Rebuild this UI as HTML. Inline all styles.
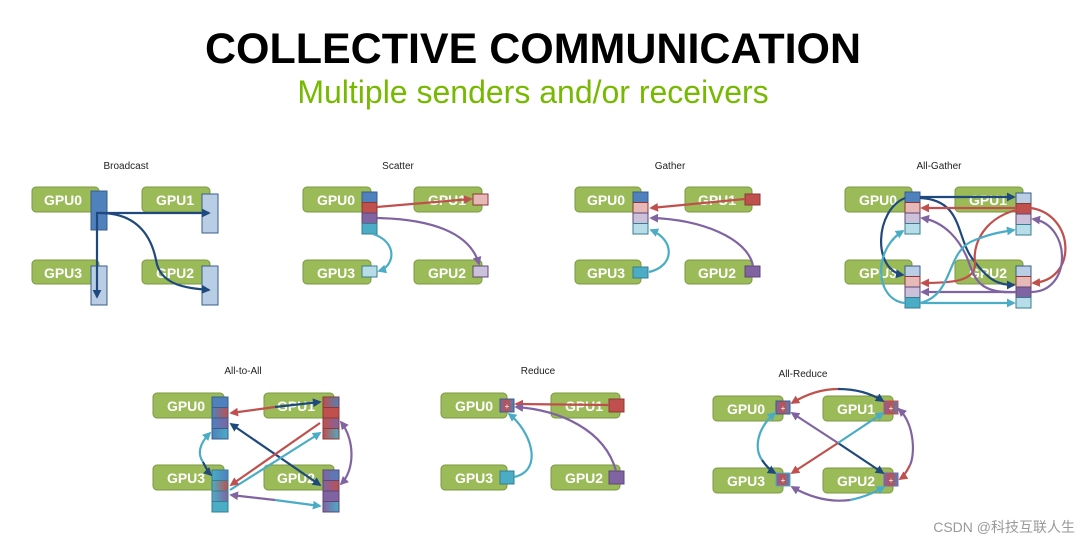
<!DOCTYPE html>
<html><head><meta charset="utf-8"><style>
html,body{margin:0;padding:0;background:#fff;width:1080px;height:544px;overflow:hidden}
svg{display:block}
.g{fill:#9bbb59;stroke:#7b9a41;stroke-width:1}
.t{font-family:"Liberation Sans",sans-serif;font-weight:bold;font-size:14px;fill:#fff}
.l{font-family:"Liberation Sans",sans-serif;font-size:10px;fill:#222}
.a{fill:none;stroke-width:2.2}
</style></head><body>
<svg width="1080" height="544" viewBox="0 0 1080 544" xmlns="http://www.w3.org/2000/svg">
<defs>
<marker id="mB" viewBox="0 0 10 10" refX="8" refY="5" markerWidth="4" markerHeight="4" orient="auto-start-reverse"><path d="M0,0L10,5L0,10z" fill="#1f497d"/></marker>
<marker id="mR" viewBox="0 0 10 10" refX="8" refY="5" markerWidth="4" markerHeight="4" orient="auto-start-reverse"><path d="M0,0L10,5L0,10z" fill="#c0504d"/></marker>
<marker id="mP" viewBox="0 0 10 10" refX="8" refY="5" markerWidth="4" markerHeight="4" orient="auto-start-reverse"><path d="M0,0L10,5L0,10z" fill="#8064a2"/></marker>
<marker id="mT" viewBox="0 0 10 10" refX="8" refY="5" markerWidth="4" markerHeight="4" orient="auto-start-reverse"><path d="M0,0L10,5L0,10z" fill="#4bacc6"/></marker>
<linearGradient id="gBR"><stop offset="0" stop-color="#4f81bd"/><stop offset="1" stop-color="#c0504d"/></linearGradient>
<linearGradient id="gBP"><stop offset="0" stop-color="#4f81bd"/><stop offset="1" stop-color="#8064a2"/></linearGradient>
<linearGradient id="gBT"><stop offset="0" stop-color="#4f81bd"/><stop offset="1" stop-color="#4bacc6"/></linearGradient>
<linearGradient id="gRB"><stop offset="0" stop-color="#c0504d"/><stop offset="1" stop-color="#4f81bd"/></linearGradient>
<linearGradient id="gRP"><stop offset="0" stop-color="#c0504d"/><stop offset="1" stop-color="#8064a2"/></linearGradient>
<linearGradient id="gRT"><stop offset="0" stop-color="#c0504d"/><stop offset="1" stop-color="#4bacc6"/></linearGradient>
<linearGradient id="gTB"><stop offset="0" stop-color="#4bacc6"/><stop offset="1" stop-color="#4f81bd"/></linearGradient>
<linearGradient id="gTR"><stop offset="0" stop-color="#4bacc6"/><stop offset="1" stop-color="#c0504d"/></linearGradient>
<linearGradient id="gTP"><stop offset="0" stop-color="#4bacc6"/><stop offset="1" stop-color="#8064a2"/></linearGradient>
<linearGradient id="gPB"><stop offset="0" stop-color="#8064a2"/><stop offset="1" stop-color="#4f81bd"/></linearGradient>
<linearGradient id="gPR"><stop offset="0" stop-color="#8064a2"/><stop offset="1" stop-color="#c0504d"/></linearGradient>
<linearGradient id="gPT"><stop offset="0" stop-color="#8064a2"/><stop offset="1" stop-color="#4bacc6"/></linearGradient>
<linearGradient id="gRed"><stop offset="0" stop-color="#8064a2"/><stop offset="0.5" stop-color="#c0504d"/><stop offset="1" stop-color="#4f81bd"/></linearGradient>
</defs>

<text x="533" y="63" text-anchor="middle" font-family="Liberation Sans,sans-serif" font-weight="bold" font-size="43" fill="#000">COLLECTIVE COMMUNICATION</text>
<text x="533" y="103" text-anchor="middle" font-family="Liberation Sans,sans-serif" font-size="32" fill="#76b900">Multiple senders and/or receivers</text>

<!-- Broadcast -->
<text class="l" x="126" y="169" text-anchor="middle">Broadcast</text>
<rect class="g" x="32" y="187" width="67" height="25" rx="4"/><text class="t" x="63" y="205" text-anchor="middle">GPU0</text>
<rect class="g" x="142" y="187" width="68" height="25" rx="4"/><text class="t" x="175" y="205" text-anchor="middle">GPU1</text>
<rect class="g" x="32" y="260" width="67" height="24" rx="4"/><text class="t" x="63" y="278" text-anchor="middle">GPU3</text>
<rect class="g" x="142" y="260" width="68" height="24" rx="4"/><text class="t" x="175" y="278" text-anchor="middle">GPU2</text>
<rect x="91" y="191" width="16" height="39" fill="#4f81bd" stroke="#385d8a"/>
<rect x="202" y="194" width="16" height="39" fill="#b9cde5" stroke="#385d8a"/>
<rect x="91" y="266" width="16" height="39" fill="#b9cde5" stroke="#385d8a"/>
<rect x="202" y="266" width="16" height="39" fill="#b9cde5" stroke="#385d8a"/>
<path class="a" stroke="#1f497d" d="M100,213 L209,213" marker-end="url(#mB)"/>
<path class="a" stroke="#1f497d" d="M100,213 L97,213 L97,297" marker-end="url(#mB)"/>
<path class="a" stroke="#1f497d" d="M100,213 C140,213 152,240 156,260 C160,285 185,288 209,290" marker-end="url(#mB)"/>

<!-- Scatter -->
<text class="l" x="398" y="169" text-anchor="middle">Scatter</text>
<rect class="g" x="303" y="187" width="68" height="25" rx="4"/><text class="t" x="336" y="205" text-anchor="middle">GPU0</text>
<rect class="g" x="414" y="187" width="68" height="25" rx="4"/><text class="t" x="447" y="205" text-anchor="middle">GPU1</text>
<rect class="g" x="303" y="260" width="68" height="24" rx="4"/><text class="t" x="336" y="278" text-anchor="middle">GPU3</text>
<rect class="g" x="414" y="260" width="68" height="24" rx="4"/><text class="t" x="447" y="278" text-anchor="middle">GPU2</text>
<rect x="362" y="192" width="15" height="10.5" fill="#4f81bd" stroke="#385d8a"/>
<rect x="362" y="202.5" width="15" height="10.5" fill="#c0504d" stroke="#8c3836"/>
<rect x="362" y="213" width="15" height="10.5" fill="#8064a2" stroke="#5c4776"/>
<rect x="362" y="223.5" width="15" height="10.5" fill="#4bacc6" stroke="#357d91"/>
<rect x="473" y="194" width="15" height="11" fill="#e6b9b8" stroke="#8c3836"/>
<rect x="362" y="266" width="15" height="11" fill="#b7dee8" stroke="#357d91"/>
<rect x="473" y="266" width="15" height="11" fill="#ccc1da" stroke="#5c4776"/>
<path class="a" stroke="#c0504d" d="M377,207 L471,199" marker-end="url(#mR)"/>
<path class="a" stroke="#8064a2" d="M377,218 C430,219 470,232 479,264" marker-end="url(#mP)"/>
<path class="a" stroke="#4bacc6" d="M373,234 C398,242 395,266 379,271" marker-end="url(#mT)"/>

<!-- Gather -->
<text class="l" x="670" y="169" text-anchor="middle">Gather</text>
<rect class="g" x="575" y="187" width="66" height="25" rx="4"/><text class="t" x="606" y="205" text-anchor="middle">GPU0</text>
<rect class="g" x="685" y="187" width="67" height="25" rx="4"/><text class="t" x="717" y="205" text-anchor="middle">GPU1</text>
<rect class="g" x="575" y="260" width="66" height="24" rx="4"/><text class="t" x="606" y="278" text-anchor="middle">GPU3</text>
<rect class="g" x="685" y="260" width="67" height="24" rx="4"/><text class="t" x="717" y="278" text-anchor="middle">GPU2</text>
<rect x="633" y="192" width="15" height="10.5" fill="#4f81bd" stroke="#385d8a"/>
<rect x="633" y="202.5" width="15" height="10.5" fill="#e6b9b8" stroke="#8c3836"/>
<rect x="633" y="213" width="15" height="10.5" fill="#ccc1da" stroke="#5c4776"/>
<rect x="633" y="223.5" width="15" height="10.5" fill="#b7dee8" stroke="#357d91"/>
<rect x="745" y="194" width="15" height="11" fill="#c0504d" stroke="#8c3836"/>
<rect x="633" y="267" width="15" height="11" fill="#4bacc6" stroke="#357d91"/>
<rect x="745" y="266" width="15" height="11" fill="#8064a2" stroke="#5c4776"/>
<path class="a" stroke="#c0504d" d="M745,199 L651,208" marker-end="url(#mR)"/>
<path class="a" stroke="#8064a2" d="M753,266 C748,238 700,219 651,218" marker-end="url(#mP)"/>
<path class="a" stroke="#4bacc6" d="M649,272 C675,266 675,240 651,230" marker-end="url(#mT)"/>

<!-- All-Gather -->
<text class="l" x="939" y="169" text-anchor="middle">All-Gather</text>
<rect class="g" x="845" y="187" width="67" height="25" rx="4"/><text class="t" x="878" y="205" text-anchor="middle">GPU0</text>
<rect class="g" x="955" y="187" width="68" height="25" rx="4"/><text class="t" x="988" y="205" text-anchor="middle">GPU1</text>
<rect class="g" x="845" y="260" width="67" height="24" rx="4"/><text class="t" x="878" y="278" text-anchor="middle">GPU3</text>
<rect class="g" x="955" y="260" width="68" height="24" rx="4"/><text class="t" x="988" y="278" text-anchor="middle">GPU2</text>
<g stroke-width="1">
<rect x="905" y="192" width="15" height="10.5" fill="#4f81bd" stroke="#385d8a"/>
<rect x="905" y="202.5" width="15" height="10.5" fill="#e6b9b8" stroke="#8c3836"/>
<rect x="905" y="213" width="15" height="10.5" fill="#ccc1da" stroke="#5c4776"/>
<rect x="905" y="223.5" width="15" height="10.5" fill="#b7dee8" stroke="#357d91"/>
<rect x="1016" y="193" width="15" height="10.5" fill="#b9cde5" stroke="#385d8a"/>
<rect x="1016" y="203.5" width="15" height="10.5" fill="#c0504d" stroke="#8c3836"/>
<rect x="1016" y="214" width="15" height="10.5" fill="#ccc1da" stroke="#5c4776"/>
<rect x="1016" y="224.5" width="15" height="10.5" fill="#b7dee8" stroke="#357d91"/>
<rect x="905" y="266" width="15" height="10.5" fill="#b9cde5" stroke="#385d8a"/>
<rect x="905" y="276.5" width="15" height="10.5" fill="#e6b9b8" stroke="#8c3836"/>
<rect x="905" y="287" width="15" height="10.5" fill="#ccc1da" stroke="#5c4776"/>
<rect x="905" y="297.5" width="15" height="10.5" fill="#4bacc6" stroke="#357d91"/>
<rect x="1016" y="266" width="15" height="10.5" fill="#b9cde5" stroke="#385d8a"/>
<rect x="1016" y="276.5" width="15" height="10.5" fill="#e6b9b8" stroke="#8c3836"/>
<rect x="1016" y="287" width="15" height="10.5" fill="#8064a2" stroke="#5c4776"/>
<rect x="1016" y="297.5" width="15" height="10.5" fill="#b7dee8" stroke="#357d91"/>
</g>
<path class="a" stroke="#1f497d" d="M920,197 L1014,197" marker-end="url(#mB)"/>
<path class="a" stroke="#1f497d" d="M920,198 C965,200 955,240 975,262 C990,282 1000,285 1014,285" marker-end="url(#mB)"/>
<path class="a" stroke="#1f497d" d="M905,198 C875,210 872,270 903,275" marker-end="url(#mB)"/>
<path class="a" stroke="#c0504d" d="M1016,208 L922,208" marker-end="url(#mR)"/>
<path class="a" stroke="#c0504d" d="M1031,208 C990,210 972,240 975,262 C977,282 950,283 922,283" marker-end="url(#mR)"/>
<path class="a" stroke="#c0504d" d="M1031,208 C1075,215 1078,280 1033,283" marker-end="url(#mR)"/>
<path class="a" stroke="#8064a2" d="M1016,292 L922,292" marker-end="url(#mP)"/>
<path class="a" stroke="#8064a2" d="M1016,292 C980,294 975,280 968,260 C960,240 945,222 922,218" marker-end="url(#mP)"/>
<path class="a" stroke="#8064a2" d="M1031,292 C1072,292 1072,225 1033,219" marker-end="url(#mP)"/>
<path class="a" stroke="#4bacc6" d="M920,303 L1014,303" marker-end="url(#mT)"/>
<path class="a" stroke="#4bacc6" d="M905,303 C875,300 872,250 903,231" marker-end="url(#mT)"/>
<path class="a" stroke="#4bacc6" d="M920,303 C955,295 945,250 975,240 C990,234 1000,232 1014,230" marker-end="url(#mT)"/>

<!-- All-to-All -->
<text class="l" x="243" y="374" text-anchor="middle">All-to-All</text>
<rect class="g" x="153" y="393" width="71" height="25" rx="4"/><text class="t" x="186" y="411" text-anchor="middle">GPU0</text>
<rect class="g" x="264" y="393" width="70" height="25" rx="4"/><text class="t" x="296" y="411" text-anchor="middle">GPU1</text>
<rect class="g" x="153" y="465" width="71" height="25" rx="4"/><text class="t" x="186" y="483" text-anchor="middle">GPU3</text>
<rect class="g" x="264" y="465" width="70" height="25" rx="4"/><text class="t" x="296" y="483" text-anchor="middle">GPU2</text>
<g stroke-width="1">
<rect x="212" y="397" width="16" height="10.5" fill="#4f81bd" stroke="#385d8a"/>
<rect x="212" y="407.5" width="16" height="10.5" fill="url(#gBR)" stroke="#385d8a"/>
<rect x="212" y="418" width="16" height="10.5" fill="url(#gBP)" stroke="#385d8a"/>
<rect x="212" y="428.5" width="16" height="10.5" fill="url(#gBT)" stroke="#385d8a"/>
<rect x="323" y="397" width="16" height="10.5" fill="url(#gRB)" stroke="#8c3836"/>
<rect x="323" y="407.5" width="16" height="10.5" fill="#c0504d" stroke="#8c3836"/>
<rect x="323" y="418" width="16" height="10.5" fill="url(#gRP)" stroke="#8c3836"/>
<rect x="323" y="428.5" width="16" height="10.5" fill="url(#gRT)" stroke="#8c3836"/>
<rect x="212" y="470" width="16" height="10.5" fill="url(#gTB)" stroke="#357d91"/>
<rect x="212" y="480.5" width="16" height="10.5" fill="url(#gTR)" stroke="#357d91"/>
<rect x="212" y="491" width="16" height="10.5" fill="url(#gTP)" stroke="#357d91"/>
<rect x="212" y="501.5" width="16" height="10.5" fill="#4bacc6" stroke="#357d91"/>
<rect x="323" y="470" width="16" height="10.5" fill="url(#gPB)" stroke="#5c4776"/>
<rect x="323" y="480.5" width="16" height="10.5" fill="url(#gPR)" stroke="#5c4776"/>
<rect x="323" y="491" width="16" height="10.5" fill="#8064a2" stroke="#5c4776"/>
<rect x="323" y="501.5" width="16" height="10.5" fill="url(#gPT)" stroke="#5c4776"/>
</g>
<path class="a" stroke="#c0504d" d="M275,407 L231,413" marker-end="url(#mR)"/>
<path class="a" stroke="#1f497d" d="M275,407 L320,402" marker-end="url(#mB)"/>
<path class="a" stroke="#1f497d" d="M231,424 L320,485" marker-start="url(#mB)" marker-end="url(#mB)"/>
<path class="a" stroke="#4bacc6" d="M230,490 L320,433" marker-end="url(#mT)"/>
<path class="a" stroke="#c0504d" d="M320,423 L231,485" marker-end="url(#mR)"/>
<path class="a" stroke="#8064a2" d="M341,422 C355,440 355,470 341,484" marker-start="url(#mP)" marker-end="url(#mP)"/>
<path class="a" stroke="#8064a2" d="M231,495 L275,500" marker-start="url(#mP)"/>
<path class="a" stroke="#4bacc6" d="M275,500 L320,506" marker-end="url(#mT)"/>
<path class="a" stroke="#4bacc6" d="M210,433 C198,445 198,455 203,462" marker-start="url(#mT)"/>
<path class="a" stroke="#1f497d" d="M203,462 C206,468 208,472 211,475" marker-end="url(#mB)"/>

<!-- Reduce -->
<text class="l" x="538" y="374" text-anchor="middle">Reduce</text>
<rect class="g" x="441" y="393" width="66" height="25" rx="4"/><text class="t" x="474" y="411" text-anchor="middle">GPU0</text>
<rect class="g" x="551" y="393" width="69" height="25" rx="4"/><text class="t" x="584" y="411" text-anchor="middle">GPU1</text>
<rect class="g" x="441" y="465" width="66" height="25" rx="4"/><text class="t" x="474" y="483" text-anchor="middle">GPU3</text>
<rect class="g" x="551" y="465" width="69" height="25" rx="4"/><text class="t" x="584" y="483" text-anchor="middle">GPU2</text>
<rect x="500" y="399" width="14" height="13" fill="url(#gRed)" stroke="#385d8a"/><text x="507" y="409" font-size="8" fill="#fff" text-anchor="middle" font-family="Liberation Sans,sans-serif">+</text>
<rect x="609" y="399" width="15" height="13" fill="#c0504d" stroke="#8c3836"/>
<rect x="500" y="471" width="14" height="13" fill="#4bacc6" stroke="#357d91"/>
<rect x="609" y="471" width="15" height="13" fill="#8064a2" stroke="#5c4776"/>
<path class="a" stroke="#c0504d" d="M609,405 L516,404" marker-end="url(#mR)"/>
<path class="a" stroke="#8064a2" d="M616,471 C605,430 560,410 516,407" marker-end="url(#mP)"/>
<path class="a" stroke="#4bacc6" d="M514,477 C545,470 530,430 509,414" marker-end="url(#mT)"/>

<!-- All-Reduce -->
<text class="l" x="803" y="377" text-anchor="middle">All-Reduce</text>
<rect class="g" x="713" y="396" width="70" height="25" rx="4"/><text class="t" x="746" y="414" text-anchor="middle">GPU0</text>
<rect class="g" x="823" y="396" width="70" height="25" rx="4"/><text class="t" x="856" y="414" text-anchor="middle">GPU1</text>
<rect class="g" x="713" y="468" width="70" height="25" rx="4"/><text class="t" x="746" y="486" text-anchor="middle">GPU3</text>
<rect class="g" x="823" y="468" width="70" height="25" rx="4"/><text class="t" x="856" y="486" text-anchor="middle">GPU2</text>
<rect x="776" y="401" width="14" height="13" fill="url(#gRed)" stroke="#385d8a"/><text x="783" y="411" font-size="8" fill="#fff" text-anchor="middle" font-family="Liberation Sans,sans-serif">+</text>
<rect x="884" y="401" width="14" height="13" fill="url(#gRed)" stroke="#c0504d"/><text x="891" y="411" font-size="8" fill="#fff" text-anchor="middle" font-family="Liberation Sans,sans-serif">+</text>
<rect x="776" y="473" width="14" height="13" fill="url(#gRed)" stroke="#4bacc6"/><text x="783" y="483" font-size="8" fill="#fff" text-anchor="middle" font-family="Liberation Sans,sans-serif">+</text>
<rect x="884" y="473" width="14" height="13" fill="url(#gRed)" stroke="#8064a2"/><text x="891" y="483" font-size="8" fill="#fff" text-anchor="middle" font-family="Liberation Sans,sans-serif">+</text>
<path class="a" stroke="#c0504d" d="M792,403 C810,392 825,389 838,389" marker-start="url(#mR)"/>
<path class="a" stroke="#1f497d" d="M838,389 C858,389 872,394 883,401" marker-end="url(#mB)"/>
<path class="a" stroke="#8064a2" d="M899,409 C915,425 915,455 910,465" marker-start="url(#mP)"/>
<path class="a" stroke="#c0504d" d="M910,465 C906,473 903,477 900,479" marker-end="url(#mR)"/>
<path class="a" stroke="#8064a2" d="M792,487 C815,500 835,502 850,500" marker-start="url(#mP)"/>
<path class="a" stroke="#4bacc6" d="M850,500 C865,497 875,492 884,487" marker-end="url(#mT)"/>
<path class="a" stroke="#4bacc6" d="M775,413 C755,430 755,450 762,460" marker-start="url(#mT)"/>
<path class="a" stroke="#1f497d" d="M762,460 C766,466 770,470 775,473" marker-end="url(#mB)"/>
<path class="a" stroke="#8064a2" d="M792,413 L838,443" marker-start="url(#mP)"/>
<path class="a" stroke="#1f497d" d="M838,443 L883,473" marker-end="url(#mB)"/>
<path class="a" stroke="#4bacc6" d="M838,443 L883,413" marker-end="url(#mT)"/>
<path class="a" stroke="#c0504d" d="M838,443 L792,473" marker-end="url(#mR)"/>

<text x="1075" y="532" text-anchor="end" font-family="Liberation Sans,'Noto Sans CJK SC',sans-serif" font-size="14" fill="#999">CSDN @科技互联人生</text>
</svg>
</body></html>
